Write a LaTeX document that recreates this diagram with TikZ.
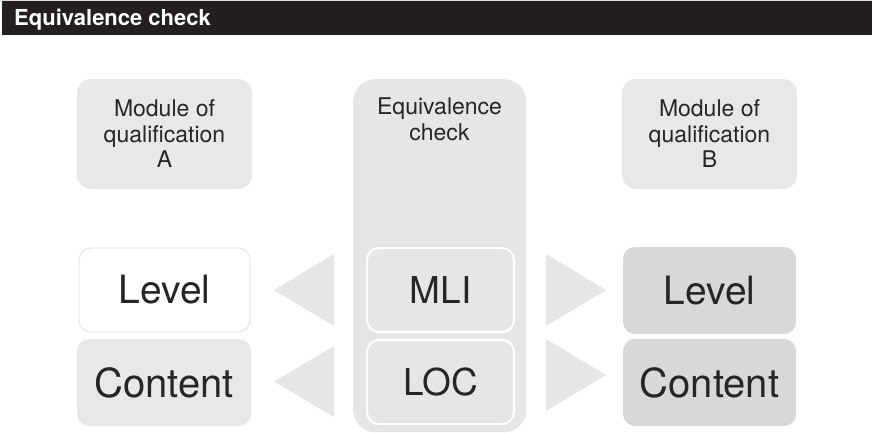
\documentclass[tikz,border=0pt]{standalone}
\usepackage{fontspec}
\setmainfont{TeX Gyre Heros}
\definecolor{hdr}{HTML}{231F20}
\definecolor{pale}{HTML}{E8E8E9}
\definecolor{colf}{HTML}{E6E6E6}
\definecolor{darkbox}{HTML}{D7D8D9}
\definecolor{txt}{HTML}{262626}
\definecolor{edge}{HTML}{DEDEDE}
\definecolor{arr}{HTML}{E6E6E6}
\begin{document}
\begin{tikzpicture}[x=1pt,y=-1pt,
  modbox/.style={rounded corners=14pt, fill=pale, minimum width=175pt, minimum height=110pt, inner sep=0pt, align=center, text=txt, font=\fontsize{23}{25.5}\selectfont},
  bigbox/.style={rounded corners=12pt, minimum width=173pt, minimum height=86pt, inner sep=0pt, text=txt, font=\fontsize{39}{40}\selectfont},
  midbox/.style={rounded corners=12pt, fill=colf, draw=white, line width=2pt, minimum width=147pt, minimum height=84pt, inner sep=0pt, text=txt, font=\fontsize{37}{40}\selectfont},
  tri/.style={fill=arr}
]
\useasboundingbox (0,0) rectangle (872,432);
% header
\fill[edge] (0,0) rectangle (872,1);
\node[fill=hdr, anchor=north west, minimum width=870pt, minimum height=34pt, inner sep=0pt] (hdr) at (2,1) {};
\node[anchor=base west, text=white, font=\fontsize{22}{24}\bfseries\selectfont, inner sep=0pt] (title) at (14,25) {Equivalence check};
% centre column
\node[fill=colf, rounded corners=22pt, anchor=north west, minimum width=173pt, minimum height=353pt, inner sep=0pt] (col) at (353,79) {};
\node[anchor=north, text=txt, align=center, font=\fontsize{23}{25.5}\selectfont, inner sep=0pt] (eqt) at (439.5,98) {Equivalence\\check};
% top boxes
\node[modbox] (modA) at (164.5,134) {Module of\\qualification\\A};
\node[modbox] (modB) at (709.5,134) {Module of\\qualification\\B};
% bottom row
\node[bigbox, fill=white, draw=edge, line width=0.8pt, minimum width=171pt, minimum height=84pt] (levA) at (164.5,290) {Level};
\node[bigbox, fill=pale, minimum width=174pt, minimum height=87pt, font=\fontsize{40}{40}\selectfont] (conA) at (164,382.5) {Content};
\node[midbox] (mli) at (440.5,290) {MLI};
\node[midbox] (loc) at (440.5,382) {LOC};
\node[bigbox, fill=darkbox, minimum height=87pt] (levB) at (709.5,290.5) {Level};
\node[bigbox, fill=darkbox, minimum height=87pt, font=\fontsize{40}{40}\selectfont] (conB) at (709.5,382.5) {Content};
% triangles
\fill[tri] (274,290) -- (334,254) -- (334,326) -- cycle;
\fill[tri] (274,381.5) -- (334,346) -- (334,417) -- cycle;
\fill[tri] (606,290) -- (546,254) -- (546,326) -- cycle;
\fill[tri] (606,375) -- (546,339) -- (546,411) -- cycle;
\end{tikzpicture}
\end{document}
